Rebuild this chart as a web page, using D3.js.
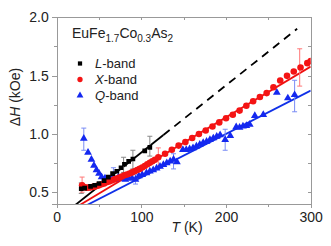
<!DOCTYPE html>
<head>
  <meta charset="utf-8">
  <script src="https://d3js.org/d3.v7.min.js"></script>
  <style>
    body { margin:0; background:#fff; }
    text { font-family: "Liberation Sans", Arial, sans-serif; fill:#222; }
    .axis path, .axis line { stroke:#999; shape-rendering: crispEdges; }
    .axis text { font-size:14px; fill:#222; }
  </style>
</head>
<body>
<svg id="chart" width="331" height="246"></svg>
<script>
  // L-band (black squares)
  var lT = [29, 33, 40, 45, 50, 56, 61, 66, 71, 76, 80, 85, 90, 104, 110];
  var lH = [0.53, 0.535, 0.55, 0.56, 0.575, 0.60, 0.63, 0.66, 0.68, 0.71, 0.74, 0.765, 0.785, 0.855, 0.885];
  // X-band (red circles)
  var xT = [30, 32, 34, 36, 38, 40, 42, 44, 46, 48, 50, 53, 56, 59, 62, 65, 68, 71, 74, 77, 80, 83, 86, 89, 92, 95, 98, 101, 104, 107, 110, 113, 116,
            120, 128, 136, 144, 152, 160, 168, 176, 184, 192, 200, 208, 216, 224, 232, 240, 248, 256, 264, 272, 280, 288, 296, 300];
  var xH = [0.56, 0.545, 0.54, 0.538, 0.54, 0.542, 0.545, 0.548, 0.552, 0.556, 0.56, 0.568, 0.575, 0.585, 0.593, 0.60, 0.61, 0.618, 0.625, 0.635, 0.645, 0.652, 0.66, 0.67, 0.68, 0.69, 0.70, 0.712, 0.725, 0.74, 0.752, 0.765, 0.778,
            0.80, 0.83, 0.865, 0.90, 0.93, 0.965, 1.0, 1.03, 1.064, 1.099, 1.135, 1.164, 1.20, 1.241, 1.28, 1.316, 1.35, 1.40, 1.458, 1.498, 1.535, 1.57, 1.607, 1.626];
  // Q-band (blue triangles)
  var qT = [32, 37, 41, 44, 47, 50, 53, 57, 61, 65, 69, 73, 77, 81, 85, 89, 93, 97, 101, 106, 110, 114, 118, 122, 126, 130, 134, 138, 142,
            149, 153, 157, 161, 165, 169, 173, 177, 181, 185, 189, 193, 199, 205, 212, 216, 220, 224, 228, 234, 244, 260, 273, 281];
  var qH = [0.96, 0.84, 0.78, 0.73, 0.69, 0.66, 0.63, 0.62, 0.61, 0.62, 0.61, 0.63, 0.62, 0.61, 0.62, 0.62, 0.61, 0.64, 0.65, 0.665, 0.68, 0.69, 0.705, 0.72, 0.735, 0.75, 0.765, 0.78, 0.76,
            0.865, 0.865, 0.87, 0.88, 0.895, 0.91, 0.925, 0.936, 0.95, 0.964, 0.978, 0.99, 0.95, 0.985, 1.06, 1.055, 1.065, 1.07, 1.08, 1.155, 1.165, 1.355, 1.307, 1.335];

  // error bars: [T, low, high]
  var lErr = [[29, 0.49, 0.58], [79, 0.67, 0.80], [90, 0.70, 0.86], [110, 0.81, 0.98]];
  var xErr = [[30, 0.50, 0.63], [120, 0.71, 0.88], [287, 1.41, 1.73]];
  var qErr = [[32, 0.86, 1.05], [67, 0.63, 0.71], [93, 0.57, 0.65], [138, 0.70, 0.83], [199, 0.86, 1.04], [281, 1.19, 1.46]];

  // linear fits: [intercept, slope]
  var lFit = [0.264, 0.005765];
  var xFit = [0.2715, 0.004355];
  var qFit = [0.257, 0.003717];

  var xTicks = [0, 100, 200, 300];
  var yTicks = [0.5, 1.0, 1.5, 2.0];

  var margin = {top: 17.3, left: 56.7};
  var width = 254, height = 186.6;

  var svg = d3.select("#chart");
  var g = svg.append("g").attr("transform", "translate(" + margin.left + "," + margin.top + ")");

  var x = d3.scaleLinear().domain([0, 300]).range([0, width]);
  var y = d3.scaleLinear().domain([0.4, 2.0]).range([height, 0]);

  g.append("clipPath").attr("id", "clip").append("rect")
    .attr("width", width).attr("height", height);

  // axes
  g.append("g").attr("class", "axis")
    .attr("transform", "translate(0," + height + ")")
    .call(d3.axisBottom(x).tickValues(d3.range(0, 301, 50)).tickSize(3).tickFormat(""));
  g.append("g").attr("class", "axis")
    .attr("transform", "translate(0," + height + ")")
    .call(d3.axisBottom(x).tickValues(xTicks).tickSize(4).tickPadding(4).tickFormat(d3.format("d")));
  g.append("g").attr("class", "axis")
    .call(d3.axisLeft(y).tickValues(d3.range(0.5, 2.01, 0.25)).tickSize(3).tickFormat(""));
  g.append("g").attr("class", "axis")
    .call(d3.axisLeft(y).tickValues(yTicks).tickSize(5).tickPadding(3).tickFormat(d3.format(".1f")));
  g.append("g").attr("class", "axis")
    .attr("transform", "translate(" + width + ",0)")
    .call(d3.axisLeft(y).tickValues(d3.range(0.5, 2.01, 0.25)).tickSize(3).tickFormat(""));
  g.append("g").attr("class", "axis")
    .call(d3.axisBottom(x).tickValues(d3.range(50, 300, 50)).tickSize(3).tickFormat(""));
  g.selectAll(".axis .domain").attr("stroke", "#999");

  var plot = g.append("g").attr("clip-path", "url(#clip)");

  // fit lines
  function fitLine(f, t0, t1, color, dash) {
    plot.append("line")
      .attr("x1", x(t0)).attr("y1", y(f[0] + f[1] * t0))
      .attr("x2", x(t1)).attr("y2", y(f[0] + f[1] * t1))
      .attr("stroke", color).attr("stroke-width", 1.8)
      .attr("stroke-dasharray", dash || null);
  }
  fitLine(qFit, 20, 300, "#1030e8");
  fitLine(xFit, 20, 300, "#f01010");
  fitLine(lFit, 20, 126, "#000");
  fitLine(lFit, 126, 284, "#000", "8,6");

  // error bars
  function errBars(data, color) {
    var e = plot.append("g").attr("stroke", color).attr("stroke-width", 1);
    data.forEach(function(d) {
      e.append("line").attr("x1", x(d[0])).attr("x2", x(d[0])).attr("y1", y(d[1])).attr("y2", y(d[2]));
      e.append("line").attr("x1", x(d[0]) - 2.5).attr("x2", x(d[0]) + 2.5).attr("y1", y(d[1])).attr("y2", y(d[1]));
      e.append("line").attr("x1", x(d[0]) - 2.5).attr("x2", x(d[0]) + 2.5).attr("y1", y(d[2])).attr("y2", y(d[2]));
    });
  }
  errBars(lErr, "#888");
  errBars(xErr, "#f77");
  errBars(qErr, "#7a8cf5");

  var sq = d3.symbol().type(d3.symbolSquare).size(22);
  var ci = d3.symbol().type(d3.symbolCircle).size(34);
  var tr = d3.symbol().type(d3.symbolTriangle).size(26);
  var sqS = d3.symbol().type(d3.symbolSquare).size(18);
  var ciS = d3.symbol().type(d3.symbolCircle).size(22);
  var trS = d3.symbol().type(d3.symbolTriangle).size(20);

  function points(ts, hs, sym, color) {
    plot.append("g").selectAll("path").data(ts).join("path")
      .attr("d", sym)
      .attr("transform", function(d, i) { return "translate(" + x(d) + "," + y(hs[i]) + ")"; })
      .attr("fill", color);
  }
  points(qT, qH, tr, "#1428f0");
  points(xT, xH, ci, "#f41414");
  points(lT, lH, sq, "#000");

  // axis titles
  var yt = svg.append("text")
    .attr("transform", "translate(20,97) rotate(-90)")
    .attr("text-anchor", "middle").style("font-size", "14px");
  yt.append("tspan").text("\u0394");
  yt.append("tspan").style("font-style", "italic").text("H");
  yt.append("tspan").text(" (kOe)");

  var xt = svg.append("text").attr("x", 187).attr("y", 232)
    .attr("text-anchor", "middle").style("font-size", "14px");
  xt.append("tspan").style("font-style", "italic").text("T");
  xt.append("tspan").text(" (K)");

  // compound name
  var title = svg.append("text").attr("x", 72).attr("y", 37.5).style("font-size", "14px");
  var parts = [["EuFe", 0], ["1.7", 1], ["Co", 0], ["0.3", 1], ["As", 0], ["2", 1]];
  var prev = 0;
  parts.forEach(function(p) {
    var dy = p[1] ? 4 : 0;
    title.append("tspan").attr("dy", dy - prev)
      .style("font-size", p[1] ? "10px" : "14px").text(p[0]);
    prev = dy;
  });

  // legend
  var legendNames = ["L", "X", "Q"];
  var legendSyms = [sqS, ciS, trS];
  var legendColors = ["#000", "#f41414", "#1428f0"];
  legendNames.forEach(function(n, i) {
    var ly = 63.5 + i * 16;
    svg.append("path").attr("d", legendSyms[i])
      .attr("transform", "translate(80," + ly + ")").attr("fill", legendColors[i]);
    var t = svg.append("text").attr("x", 95).attr("y", ly + 4.5).style("font-size", "13px");
    t.append("tspan").style("font-style", "italic").text(n);
    t.append("tspan").text("-band");
  });
</script>
</body>
